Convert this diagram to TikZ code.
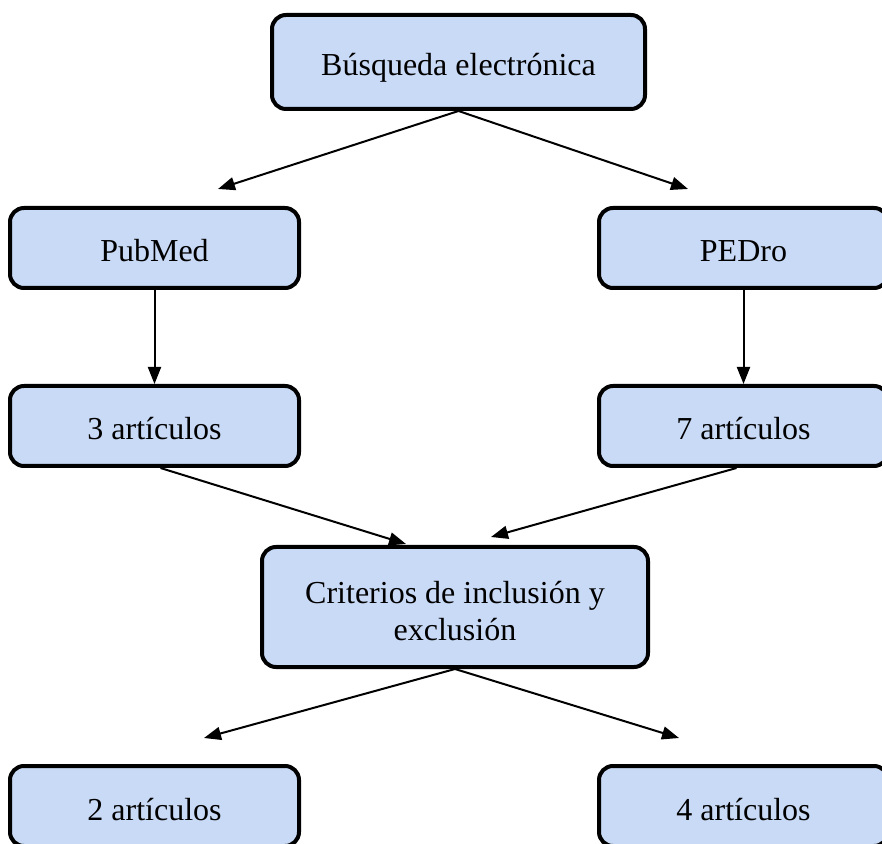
\documentclass[tikz,border=0pt]{standalone}
\usepackage{fontspec}
\setmainfont{Liberation Serif}
\usetikzlibrary{arrows.meta}
\definecolor{boxfill}{RGB}{201,218,246}
\begin{document}
\begin{tikzpicture}[x=1pt,y=1pt,
  fbox/.style={draw=black, fill=boxfill, line width=4pt, rounded corners=14pt,
    minimum width=289pt, minimum height=80pt, align=center, inner sep=0pt,
    text height=28pt, text depth=0pt,
    font=\fontsize{32}{37}\selectfont},
  conn/.style={line width=2pt, -{Triangle[length=17pt,width=13pt]}}]
\useasboundingbox (0,0) rectangle (882,843);
\clip (0,0) rectangle (882,843);
\node[fbox, minimum width=373pt, minimum height=94pt] (top) at (458.5,781) {Búsqueda electrónica};
\node[fbox] (pub) at (154.5,595) {PubMed};
\node[fbox] (ped) at (743.5,595) {PEDro};
\node[fbox] (a3) at (154.5,417) {3 artículos};
\node[fbox] (a7) at (743.5,417) {7 artículos};
\node[fbox, minimum width=386pt, minimum height=120pt, text height=66pt, text depth=0pt] (crit) at (455,236) {Criterios de inclusión y\\exclusión};
\node[fbox] (a2) at (154.5,37) {2 artículos};
\node[fbox] (a4) at (743.5,37) {4 artículos};
\coordinate (t1) at (218,654);
\coordinate (t2) at (688,654);
\coordinate (p1) at (154.5,459);
\coordinate (p2) at (743.5,459);
\coordinate (c1) at (406,299);
\coordinate (c2) at (491,306);
\coordinate (b1) at (204,105);
\coordinate (b2) at (679,105);
\draw[conn] (top.south) -- (t1);
\draw[conn] (top.south) -- (t2);
\draw[conn] (pub.south) -- (p1);
\draw[conn] (ped.south) -- (p2);
\draw[conn] ([xshift=6pt]a3.south) -- (c1);
\draw[conn] ([xshift=-7pt]a7.south) -- (c2);
\draw[conn] (crit.south) -- (b1);
\draw[conn] (crit.south) -- (b2);
\end{tikzpicture}
\end{document}
